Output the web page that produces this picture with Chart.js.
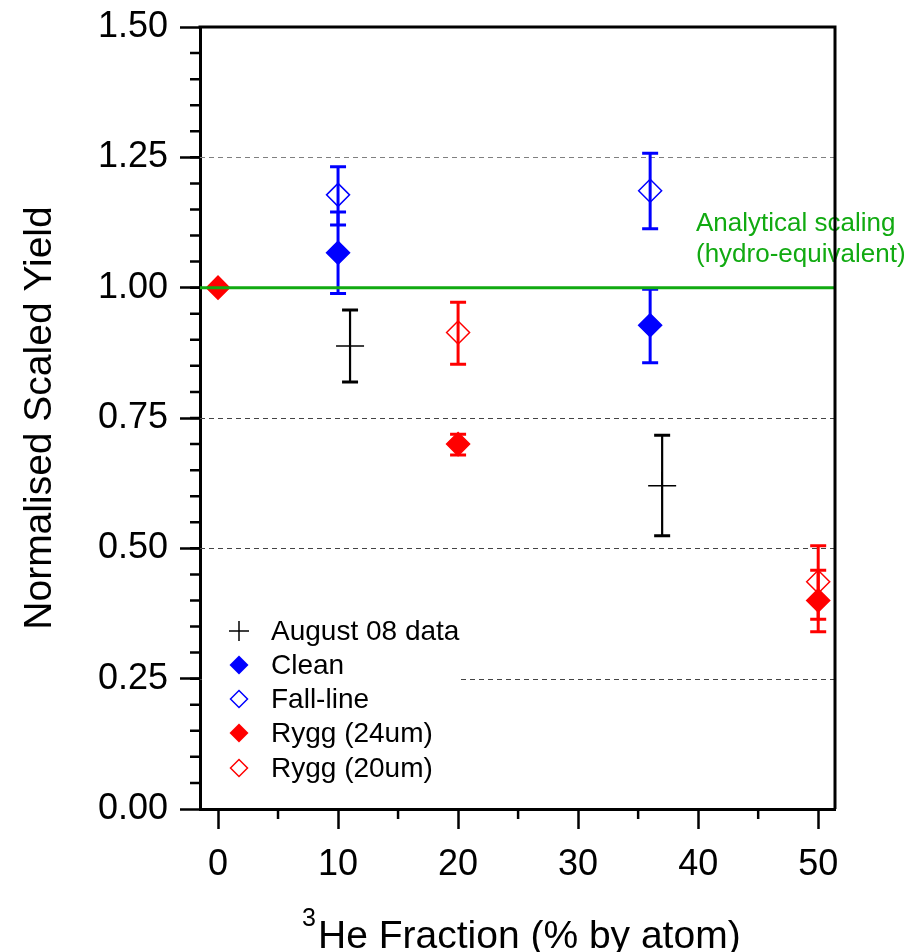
<!DOCTYPE html>
<html>
<head>
<meta charset="utf-8">
<script src="https://cdn.jsdelivr.net/npm/chart.js@4"></script>
<style>
  html, body { margin: 0; padding: 0; background: #fff; }
  #wrap { width: 909px; height: 952px; }
</style>
</head>
<body>
<div id="wrap"><canvas id="yieldChart" width="909" height="952"></canvas></div>
<script>
// values
const augX = [11, 37];
const augY = [0.888, 0.620];
const augLo = [0.819, 0.524];
const augHi = [0.957, 0.717];

const cleanX = [10, 36];
const cleanY = [1.067, 0.928];
const cleanLo = [0.989, 0.856];
const cleanHi = [1.145, 0.997];

const fallX = [10, 36];
const fallY = [1.178, 1.186];
const fallLo = [1.120, 1.113];
const fallHi = [1.232, 1.258];

const rygg24X = [0, 20, 50];
const rygg24Y = [1.000, 0.700, 0.400];
const rygg24Lo = [null, 0.679, 0.340];
const rygg24Hi = [null, 0.719, 0.458];

const rygg20X = [20, 50];
const rygg20Y = [0.914, 0.436];
const rygg20Lo = [0.853, 0.364];
const rygg20Hi = [0.972, 0.505];

const xTicks = [0, 10, 20, 30, 40, 50];
const yTicks = [0, 0.25, 0.5, 0.75, 1.0, 1.25, 1.5];
const dashedLevels = [0.25, 0.5, 0.75, 1.25];
const scalingLevel = 1.0;

const FONT = '"Liberation Sans", Arial, Helvetica, sans-serif';
const GREEN = '#11aa11';
const BLUE = '#0000ff';
const RED = '#ff0000';

function pts(xs, ys) {
    return xs.map((x, i) => ({ x: x, y: ys[i] }));
}

const seriesList = [
    { label: 'August 08 data', xs: augX, ys: augY, lo: augLo, hi: augHi, color: '#000000', style: 'cross', filled: false },
    { label: 'Clean', xs: cleanX, ys: cleanY, lo: cleanLo, hi: cleanHi, color: BLUE, style: 'rectRot', filled: true },
    { label: 'Fall-line', xs: fallX, ys: fallY, lo: fallLo, hi: fallHi, color: BLUE, style: 'rectRot', filled: false },
    { label: 'Rygg (24um)', xs: rygg24X, ys: rygg24Y, lo: rygg24Lo, hi: rygg24Hi, color: RED, style: 'rectRot', filled: true },
    { label: 'Rygg (20um)', xs: rygg20X, ys: rygg20Y, lo: rygg20Lo, hi: rygg20Hi, color: RED, style: 'rectRot', filled: false }
];

const datasets = seriesList.map(s => ({
    label: s.label,
    data: pts(s.xs, s.ys),
    showLine: false,
    pointStyle: s.style,
    pointRadius: s.style === 'cross' ? 14 : 11.5,
    pointHoverRadius: s.style === 'cross' ? 14 : 11.5,
    borderColor: s.color,
    backgroundColor: s.filled ? s.color : 'rgba(0,0,0,0)',
    pointBackgroundColor: s.filled ? s.color : 'rgba(0,0,0,0)',
    pointBorderColor: s.color,
    pointBorderWidth: 1.5,
    errLo: s.lo,
    errHi: s.hi,
    errWidth: s.style === 'cross' ? 2.2 : 3
}));

const extrasPlugin = {
    id: 'extras',
    beforeDatasetsDraw(chart) {
        const ctx = chart.ctx;
        const area = chart.chartArea;
        const xs = chart.scales.x, ys = chart.scales.y;
        ctx.save();
        // dashed reference lines
        ctx.lineWidth = 1.2;
        ctx.setLineDash([5, 4]);
        dashedLevels.forEach(v => {
            const py = Math.round(ys.getPixelForValue(v)) + 0.5;
            ctx.strokeStyle = v > 1 ? '#808080' : '#444444';
            ctx.beginPath();
            ctx.moveTo(area.left, py);
            ctx.lineTo(area.right, py);
            ctx.stroke();
        });
        ctx.setLineDash([]);
        // error bars
        chart.data.datasets.forEach(ds => {
            ds.data.forEach((p, i) => {
                const lo = ds.errLo[i], hi = ds.errHi[i];
                if (lo == null || hi == null) return;
                const px = xs.getPixelForValue(p.x);
                const pLo = ys.getPixelForValue(lo);
                const pHi = ys.getPixelForValue(hi);
                ctx.strokeStyle = ds.borderColor;
                ctx.lineWidth = ds.errWidth;
                ctx.beginPath();
                ctx.moveTo(px, pLo);
                ctx.lineTo(px, pHi);
                ctx.stroke();
                ctx.lineWidth = 3;
                ctx.beginPath();
                ctx.moveTo(px - 8, pLo); ctx.lineTo(px + 8, pLo);
                ctx.moveTo(px - 8, pHi); ctx.lineTo(px + 8, pHi);
                ctx.stroke();
            });
        });
        ctx.restore();
    },
    afterDatasetsDraw(chart) {
        const ctx = chart.ctx;
        const area = chart.chartArea;
        const xs = chart.scales.x, ys = chart.scales.y;
        ctx.save();

        // analytical scaling line
        const gy = ys.getPixelForValue(scalingLevel);
        ctx.strokeStyle = GREEN;
        ctx.lineWidth = 3;
        ctx.beginPath();
        ctx.moveTo(area.left, gy);
        ctx.lineTo(area.right, gy);
        ctx.stroke();

        ctx.fillStyle = GREEN;
        ctx.font = '26px ' + FONT;
        ctx.textAlign = 'left';
        ctx.textBaseline = 'alphabetic';
        ctx.fillText('Analytical scaling', 696, 231);
        ctx.fillText('(hydro-equivalent)', 696, 262);

        // legend
        ctx.fillStyle = '#ffffff';
        ctx.fillRect(area.left + 2, 608, 256, 184);
        const rowY = [631, 665, 699, 733, 768];
        ctx.font = '28px ' + FONT;
        ctx.textBaseline = 'middle';
        seriesList.forEach((s, i) => {
            const cx = 239, cy = rowY[i];
            ctx.strokeStyle = s.color;
            ctx.fillStyle = s.color;
            ctx.lineWidth = 1.5;
            ctx.beginPath();
            if (s.style === 'cross') {
                ctx.moveTo(cx - 10, cy); ctx.lineTo(cx + 10, cy);
                ctx.moveTo(cx, cy - 10); ctx.lineTo(cx, cy + 10);
                ctx.stroke();
            } else {
                const r = s.filled ? 9.5 : 8.5;
                ctx.moveTo(cx - r, cy); ctx.lineTo(cx, cy - r);
                ctx.lineTo(cx + r, cy); ctx.lineTo(cx, cy + r);
                ctx.closePath();
                if (s.filled) ctx.fill(); else ctx.stroke();
            }
            ctx.fillStyle = '#000000';
            ctx.fillText(s.label, 271, cy + 1);
        });

        // frame top/right
        ctx.strokeStyle = '#000000';
        ctx.lineWidth = 3;
        ctx.beginPath();
        ctx.moveTo(area.left - 1.5, area.top);
        ctx.lineTo(area.right, area.top);
        ctx.lineTo(area.right, area.bottom);
        ctx.stroke();

        // minor ticks
        ctx.lineWidth = 2.5;
        ctx.beginPath();
        for (let v = 0.05; v < 1.5; v += 0.05) {
            const py = ys.getPixelForValue(v);
            ctx.moveTo(area.left - 10, py);
            ctx.lineTo(area.left, py);
        }
        for (let v = 5; v < 51; v += 10) {
            const px = xs.getPixelForValue(v);
            ctx.moveTo(px, area.bottom);
            ctx.lineTo(px, area.bottom + 10);
        }
        ctx.stroke();

        // axis titles
        ctx.fillStyle = '#000000';
        ctx.textBaseline = 'alphabetic';
        ctx.font = '39px ' + FONT;
        ctx.textAlign = 'left';
        ctx.fillText('He Fraction (% by atom)', 318, 948);
        ctx.font = '25px ' + FONT;
        ctx.fillText('3', 302, 926);

        ctx.save();
        ctx.translate(51, 418);
        ctx.rotate(-Math.PI / 2);
        ctx.font = '39px ' + FONT;
        ctx.textAlign = 'center';
        ctx.fillText('Normalised Scaled Yield', 0, 0);
        ctx.restore();

        ctx.restore();
    }
};

new Chart(document.getElementById('yieldChart').getContext('2d'), {
    type: 'scatter',
    data: { datasets: datasets },
    options: {
        responsive: false,
        animation: false,
        devicePixelRatio: 1,
        layout: { padding: { top: 27, right: 74, left: 0, bottom: 0 } },
        plugins: {
            legend: { display: false },
            tooltip: { enabled: false }
        },
        scales: {
            x: {
                type: 'linear',
                min: -1.5,
                max: 51.4,
                afterFit: scale => {
                    scale.height = 143;
                    scale.paddingLeft = 0;
                    scale.paddingRight = 0;
                },
                afterBuildTicks: scale => { scale.ticks = xTicks.map(v => ({ value: v })); },
                ticks: {
                    includeBounds: false,
                    padding: 14,
                    color: '#000000',
                    font: { family: FONT, size: 36 },
                    maxRotation: 0
                },
                grid: {
                    drawOnChartArea: false,
                    drawTicks: true,
                    tickLength: 20,
                    tickWidth: 2.5,
                    tickColor: '#000000'
                },
                border: { display: true, color: '#000000', width: 3 }
            },
            y: {
                type: 'linear',
                min: 0,
                max: 1.5,
                afterFit: scale => {
                    scale.width = 200;
                    scale.paddingTop = 0;
                    scale.paddingBottom = 0;
                },
                afterBuildTicks: scale => { scale.ticks = yTicks.map(v => ({ value: v })); },
                ticks: {
                    padding: 12,
                    color: '#000000',
                    font: { family: FONT, size: 36 },
                    callback: v => Number(v).toFixed(2)
                },
                grid: {
                    drawOnChartArea: false,
                    drawTicks: true,
                    tickLength: 20,
                    tickWidth: 2.5,
                    tickColor: '#000000'
                },
                border: { display: true, color: '#000000', width: 3 }
            }
        }
    },
    plugins: [extrasPlugin]
});
</script>
</body>
</html>
